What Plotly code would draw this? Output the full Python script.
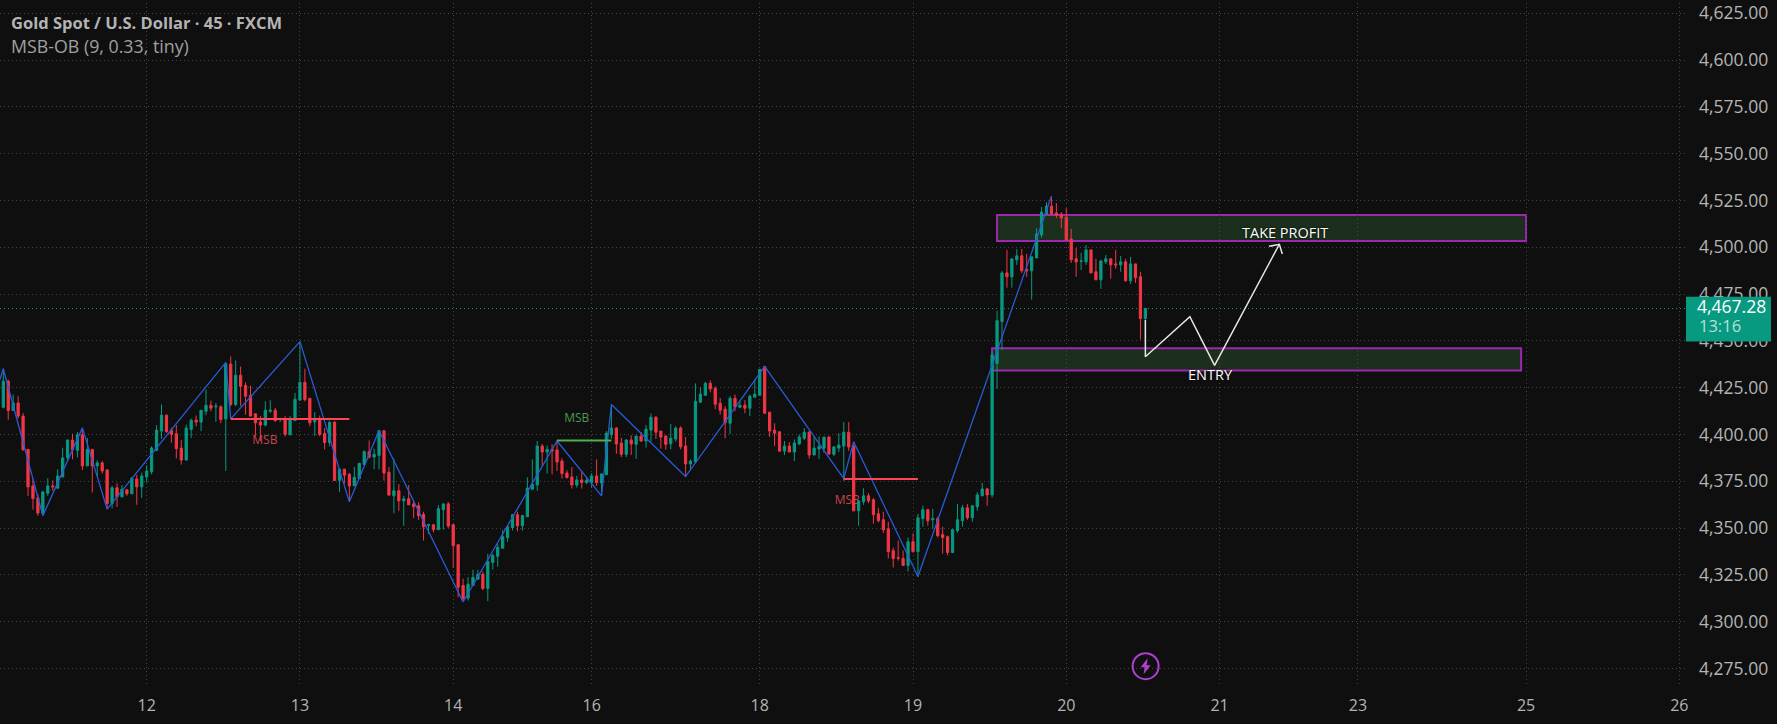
import plotly.graph_objects as go

# 45 minute gold candles
open_ = [
    4414.5, 4428.4, 4412.8, 4416.8, 4409.8, 4392.0, 4372.5, 4366.1, 4357.8, 4368.6,
    4372.5, 4371.3, 4377.3, 4387.6, 4397.0, 4391.5, 4399.8, 4383.2, 4392.0, 4383.2,
    4384.8, 4381.0, 4363.1, 4371.5, 4366.7, 4370.4, 4368.3, 4376.2, 4372.0, 4377.3,
    4380.0, 4391.5, 4401.8, 4410.3, 4402.3, 4400.4, 4392.7, 4386.3, 4402.7, 4407.6,
    4406.6, 4412.4, 4415.6, 4414.7, 4414.7, 4408.3, 4437.6, 4416.0, 4431.6, 4426.2,
    4420.9, 4411.0, 4406.7, 4405.0, 4412.4, 4412.9, 4408.0, 4408.5, 4399.8, 4407.4,
    4418.4, 4427.8, 4419.3, 4406.7, 4407.8, 4400.5, 4395.7, 4406.6, 4375.5, 4381.4,
    4378.7, 4372.5, 4376.4, 4384.0, 4390.8, 4387.9, 4388.8, 4402.0, 4379.8, 4367.2,
    4369.9, 4364.5, 4365.6, 4362.8, 4361.9, 4357.3, 4351.4, 4351.8, 4349.1, 4359.8,
    4362.9, 4351.8, 4341.1, 4319.3, 4312.6, 4319.3, 4322.7, 4325.2, 4317.7, 4331.6,
    4334.9, 4339.2, 4344.9, 4350.2, 4357.1, 4351.2, 4356.0, 4370.7, 4373.0, 4393.8,
    4390.6, 4392.0, 4391.7, 4385.8, 4379.4, 4377.3, 4373.0, 4375.7, 4374.3, 4374.3,
    4377.8, 4374.1, 4378.5, 4400.0, 4403.4, 4395.4, 4389.4, 4397.0, 4394.7, 4399.1,
    4396.5, 4402.3, 4409.2, 4401.8, 4399.1, 4395.0, 4397.5, 4403.4, 4393.8, 4384.2,
    4385.3, 4417.2, 4420.9, 4427.3, 4424.6, 4416.7, 4413.5, 4406.0, 4419.3, 4414.5,
    4415.6, 4414.0, 4419.9, 4420.9, 4436.3, 4411.9, 4402.3, 4401.4, 4391.1, 4393.8,
    4390.6, 4394.9, 4398.0, 4401.2, 4389.0, 4392.2, 4392.7, 4398.6, 4389.4, 4392.7,
    4393.8, 4401.2, 4393.8, 4359.2, 4364.0, 4367.2, 4365.1, 4357.6, 4354.4, 4349.6,
    4337.9, 4334.2, 4333.7, 4330.0, 4342.7, 4337.4, 4355.0, 4359.8, 4354.4, 4355.0,
    4346.5, 4345.4, 4336.9, 4348.6, 4353.9, 4360.8, 4355.5, 4361.3, 4367.2, 4370.9,
    4367.7, 4437.9, 4460.3, 4486.3, 4484.2, 4493.3, 4495.4, 4488.1, 4487.4, 4494.3,
    4506.6, 4517.7, 4522.0, 4518.3, 4517.7, 4516.1, 4504.4, 4493.8, 4492.4, 4492.2,
    4498.6, 4486.9, 4482.6, 4492.2, 4493.8, 4491.1, 4490.6, 4492.2, 4482.1, 4491.1,
    4484.2, 4461.9,
]
high = [
    4435.1, 4429.3, 4421.3, 4420.4, 4411.5, 4392.0, 4376.1, 4368.1, 4369.9, 4376.6,
    4375.5, 4381.4, 4392.9, 4397.3, 4400.4, 4401.4, 4403.5, 4398.2, 4392.0, 4386.2,
    4385.8, 4381.4, 4372.5, 4373.9, 4373.0, 4370.7, 4377.3, 4378.4, 4379.6, 4383.5,
    4393.8, 4405.0, 4416.0, 4410.6, 4403.5, 4405.0, 4397.0, 4405.3, 4408.5, 4410.1,
    4412.9, 4423.9, 4418.1, 4416.8, 4415.6, 4438.5, 4441.7, 4439.5, 4436.3, 4427.8,
    4426.1, 4411.3, 4409.8, 4417.7, 4418.3, 4414.2, 4408.9, 4409.8, 4409.8, 4422.2,
    4449.6, 4435.1, 4419.3, 4411.9, 4410.1, 4403.4, 4407.4, 4406.9, 4381.7, 4381.7,
    4379.4, 4382.6, 4384.8, 4391.5, 4396.8, 4392.4, 4402.1, 4402.1, 4382.6, 4387.2,
    4373.4, 4367.2, 4373.0, 4364.5, 4363.7, 4358.7, 4352.1, 4351.8, 4362.2, 4363.1,
    4364.0, 4351.8, 4341.1, 4322.9, 4323.8, 4327.7, 4327.7, 4326.8, 4336.2, 4336.2,
    4341.5, 4349.1, 4351.2, 4357.1, 4358.7, 4357.1, 4377.0, 4386.7, 4396.5, 4394.9,
    4394.1, 4394.7, 4396.5, 4387.2, 4380.9, 4382.6, 4377.8, 4380.5, 4377.0, 4379.3,
    4386.7, 4379.1, 4401.8, 4416.0, 4403.9, 4398.2, 4397.5, 4399.6, 4399.5, 4401.2,
    4405.0, 4411.2, 4409.8, 4401.8, 4399.6, 4405.5, 4404.4, 4404.4, 4398.6, 4386.7,
    4427.3, 4425.2, 4428.0, 4428.9, 4425.7, 4419.5, 4415.1, 4420.4, 4421.3, 4417.7,
    4418.3, 4421.3, 4429.3, 4434.8, 4436.3, 4411.9, 4406.0, 4401.8, 4396.5, 4395.9,
    4397.3, 4400.0, 4403.4, 4401.8, 4398.6, 4398.9, 4398.6, 4399.1, 4393.8, 4400.7,
    4406.6, 4406.6, 4394.7, 4364.5, 4371.3, 4368.6, 4366.0, 4360.8, 4358.7, 4353.4,
    4339.5, 4343.3, 4337.9, 4344.9, 4347.2, 4357.6, 4361.9, 4360.3, 4360.3, 4356.0,
    4350.7, 4345.9, 4349.1, 4362.9, 4362.4, 4362.9, 4361.9, 4369.3, 4374.1, 4371.5,
    4444.0, 4466.1, 4487.4, 4498.6, 4493.8, 4499.1, 4499.1, 4496.5, 4494.9, 4510.3,
    4521.5, 4524.1, 4527.3, 4523.6, 4518.8, 4520.9, 4509.8, 4499.6, 4497.0, 4501.2,
    4498.6, 4493.8, 4493.3, 4495.9, 4493.8, 4498.6, 4495.4, 4493.8, 4494.9, 4491.1,
    4486.9, 4467.6,
]
low = [
    4414.0, 4407.8, 4412.8, 4408.5, 4391.1, 4367.2, 4359.8, 4356.6, 4356.6, 4367.2,
    4369.9, 4371.1, 4377.3, 4385.8, 4386.7, 4387.6, 4381.0, 4383.2, 4369.0, 4377.8,
    4379.1, 4360.1, 4360.5, 4361.3, 4366.3, 4367.2, 4368.1, 4362.4, 4366.1, 4374.3,
    4378.7, 4391.1, 4397.7, 4400.9, 4395.6, 4387.2, 4383.9, 4386.2, 4398.2, 4404.4,
    4401.8, 4410.3, 4412.4, 4406.7, 4406.0, 4380.5, 4415.1, 4415.1, 4415.1, 4410.6,
    4409.8, 4399.1, 4396.5, 4404.4, 4411.5, 4406.7, 4406.6, 4398.8, 4399.6, 4407.4,
    4417.9, 4417.7, 4404.4, 4399.1, 4399.1, 4392.0, 4393.6, 4375.2, 4369.3, 4373.8,
    4364.0, 4372.5, 4376.4, 4383.5, 4387.1, 4381.4, 4381.4, 4375.4, 4367.2, 4357.8,
    4359.2, 4351.2, 4362.4, 4355.3, 4354.4, 4343.3, 4346.8, 4347.7, 4348.9, 4349.1,
    4350.0, 4328.7, 4313.1, 4311.3, 4311.3, 4319.3, 4322.3, 4316.7, 4311.0, 4327.8,
    4329.4, 4339.2, 4342.7, 4348.6, 4348.2, 4348.6, 4356.0, 4370.7, 4369.9, 4383.2,
    4379.1, 4378.7, 4380.5, 4376.4, 4376.4, 4371.1, 4371.6, 4371.1, 4373.4, 4371.6,
    4372.5, 4367.2, 4378.5, 4397.7, 4389.7, 4387.9, 4387.9, 4389.0, 4386.9, 4396.1,
    4392.9, 4396.1, 4397.7, 4392.4, 4391.8, 4392.0, 4396.1, 4392.0, 4377.5, 4381.4,
    4385.1, 4417.2, 4420.9, 4422.5, 4413.5, 4410.6, 4398.0, 4400.2, 4412.4, 4414.2,
    4411.3, 4409.8, 4419.9, 4420.9, 4411.3, 4398.6, 4393.8, 4390.6, 4389.0, 4390.6,
    4385.8, 4394.3, 4397.0, 4387.1, 4389.0, 4386.9, 4390.1, 4389.4, 4388.5, 4390.6,
    4375.2, 4391.1, 4358.9, 4351.2, 4362.4, 4363.3, 4352.3, 4353.0, 4347.3, 4333.7,
    4328.9, 4332.6, 4329.8, 4326.8, 4336.9, 4323.8, 4350.7, 4351.2, 4349.6, 4344.9,
    4336.3, 4335.3, 4336.9, 4347.5, 4350.7, 4354.4, 4353.4, 4359.2, 4367.2, 4361.9,
    4366.3, 4424.3, 4445.2, 4478.4, 4478.4, 4490.6, 4486.3, 4484.2, 4472.0, 4494.3,
    4505.0, 4517.7, 4517.7, 4515.6, 4510.3, 4503.4, 4491.7, 4484.2, 4487.9, 4490.6,
    4486.3, 4482.6, 4477.8, 4491.1, 4483.2, 4488.5, 4486.9, 4481.6, 4480.5, 4481.0,
    4450.7, 4451.4,
]
close = [
    4428.4, 4412.8, 4416.8, 4409.8, 4392.0, 4372.0, 4365.8, 4358.0, 4369.3, 4372.5,
    4372.0, 4377.8, 4387.4, 4397.0, 4391.7, 4399.8, 4383.2, 4392.0, 4383.2, 4384.8,
    4380.5, 4363.1, 4371.5, 4366.7, 4370.7, 4368.3, 4376.6, 4372.0, 4377.8, 4380.5,
    4392.7, 4402.3, 4410.3, 4401.4, 4400.0, 4392.4, 4386.3, 4403.4, 4407.6, 4406.6,
    4412.9, 4415.6, 4414.0, 4415.1, 4408.0, 4437.6, 4416.0, 4431.6, 4425.7, 4420.4,
    4409.8, 4406.2, 4405.0, 4412.9, 4412.9, 4407.4, 4408.5, 4400.0, 4408.3, 4418.8,
    4427.8, 4418.6, 4406.2, 4407.4, 4400.0, 4395.7, 4406.4, 4375.4, 4381.4, 4378.2,
    4372.5, 4377.1, 4384.6, 4390.8, 4387.9, 4389.4, 4402.0, 4379.4, 4367.6, 4369.9,
    4364.5, 4365.6, 4362.4, 4361.3, 4356.6, 4350.7, 4351.8, 4349.1, 4360.3, 4362.9,
    4351.1, 4340.6, 4318.4, 4312.2, 4319.9, 4323.6, 4325.2, 4317.7, 4332.1, 4335.3,
    4339.7, 4345.4, 4350.7, 4357.1, 4351.2, 4356.6, 4371.3, 4373.4, 4393.8, 4390.6,
    4392.0, 4391.1, 4385.3, 4379.1, 4377.0, 4373.0, 4375.7, 4374.3, 4375.5, 4377.8,
    4374.3, 4378.9, 4400.7, 4403.4, 4394.9, 4389.4, 4397.0, 4394.9, 4399.1, 4396.5,
    4402.8, 4409.2, 4401.2, 4398.6, 4394.7, 4398.0, 4403.4, 4393.4, 4384.2, 4385.8,
    4417.7, 4421.5, 4427.3, 4424.3, 4416.1, 4412.9, 4406.2, 4419.3, 4414.7, 4415.6,
    4414.0, 4420.4, 4421.5, 4434.8, 4411.3, 4401.8, 4400.7, 4391.1, 4393.8, 4390.6,
    4395.4, 4398.6, 4401.2, 4389.0, 4392.7, 4393.6, 4398.6, 4389.5, 4393.3, 4394.3,
    4401.2, 4393.3, 4359.2, 4364.5, 4367.2, 4364.5, 4357.1, 4353.9, 4349.1, 4337.4,
    4333.7, 4333.9, 4330.0, 4342.7, 4337.4, 4355.5, 4359.8, 4353.9, 4355.0, 4345.9,
    4344.9, 4336.9, 4349.1, 4354.4, 4360.8, 4355.5, 4361.9, 4367.7, 4370.9, 4367.7,
    4442.5, 4460.8, 4486.3, 4484.2, 4493.8, 4495.4, 4487.4, 4487.4, 4494.9, 4507.1,
    4518.8, 4522.0, 4517.7, 4517.2, 4515.6, 4503.9, 4493.3, 4492.2, 4492.7, 4498.6,
    4486.3, 4482.6, 4492.7, 4493.8, 4490.6, 4490.6, 4492.2, 4482.1, 4491.1, 4483.7,
    4461.9, 4467.28,
]
bars = list(range(len(close)))

# x axis ticks sit on the first bar of each session
day_bars = [29, 60, 91, 119, 153, 184, 215, 246, 274, 308, 339]
day_labels = ["12", "13", "14", "16", "18", "19", "20", "21", "23", "25", "26"]
price_ticks = [4275, 4300, 4325, 4350, 4375, 4400, 4425, 4450, 4475, 4500, 4525, 4550, 4575, 4600, 4625]

# MSB-OB indicator
zigzag_bars = [-4, 0, 8, 16, 21, 45, 46, 60, 70, 76, 93, 112, 121, 123, 138, 154, 170, 172, 185, 212]
zigzag_price = [4402.0, 4435.1, 4356.6, 4403.5, 4360.1, 4438.5, 4408.3, 4449.6, 4364.0, 4402.1,
                4310.5, 4396.5, 4367.2, 4416.0, 4377.5, 4436.3, 4376.4, 4396.1, 4324.1, 4527.3]
msb_red_1_bars, msb_red_1_price = [46, 70], [4408.3, 4408.3]
msb_green_bars, msb_green_price = [112, 123], [4396.8, 4396.8]
msb_red_2_bars, msb_red_2_price = [170, 185], [4376.2, 4376.2]
msb_label_bars = [52.9, 116, 170.7]
msb_label_price = [4396.3, 4408.0, 4364.4]
msb_label_colors = ["#c9434e", "#4a9a4e", "#c9434e"]

# hand drawn trade idea
plan_bars = [231, 231, 240, 245, 258.1]
plan_price = [4461.2, 4441.5, 4462.9, 4436.9, 4501.6]
arrow_bars = [256.0, 258.1, 258.7]
arrow_price = [4500.5, 4501.6, 4496.4]
tp_zone = [201, 308, 4503.4, 4517.2]
entry_zone = [200, 307, 4434.2, 4446.1]

BG = "#0f0f0f"
UP = "#089981"
DOWN = "#f23645"
GRID = "#454545"
AXIS_TXT = "#b4b4b4"

fig = go.Figure()

fig.add_trace(go.Scatter(
    x=msb_label_bars, y=msb_label_price, mode="text", text=["MSB", "MSB", "MSB"],
    textfont=dict(family="Open Sans", size=12, color=msb_label_colors),
    hoverinfo="skip", zorder=-1,
))

fig.add_trace(go.Candlestick(
    x=bars, open=open_, high=high, low=low, close=close,
    increasing=dict(line=dict(color=UP, width=1), fillcolor=UP),
    decreasing=dict(line=dict(color=DOWN, width=1), fillcolor=DOWN),
    whiskerwidth=0, zorder=0,
))

for xs, ys, col, w in [
    (zigzag_bars, zigzag_price, "#2a5bd7", 1.3),
    (msb_red_1_bars, msb_red_1_price, "#ff4455", 2),
    (msb_green_bars, msb_green_price, "#4caf50", 2),
    (msb_red_2_bars, msb_red_2_price, "#ff4455", 2),
    (plan_bars, plan_price, "#e6e6e6", 1.5),
    (arrow_bars, arrow_price, "#e6e6e6", 1.5),
]:
    fig.add_trace(go.Scatter(x=xs, y=ys, mode="lines", line=dict(color=col, width=w),
                             hoverinfo="skip", zorder=1))

# zones and last price line
for z in (tp_zone, entry_zone):
    fig.add_shape(type="rect", x0=z[0], x1=z[1], y0=z[2], y1=z[3], layer="below",
                  line=dict(color="#9c27b0", width=2), fillcolor="rgba(76,175,80,0.2)")
fig.add_shape(type="line", xref="paper", x0=0, x1=1, y0=close[-1], y1=close[-1], layer="below",
              line=dict(color=UP, width=1, dash="1px,3px"))

# price tag on the scale
fig.add_shape(type="rect", xref="paper", yref="paper", x0=1.0, x1=1.0504, y0=0.5044, y1=0.5700,
              layer="above", line=dict(width=0), fillcolor="#089981")

# lightning badge
fig.add_shape(type="circle", xref="paper", yref="paper", xsizemode="pixel", ysizemode="pixel",
              xanchor=0.6795, yanchor=0.029, x0=-13, x1=13, y0=-13, y1=13,
              line=dict(color="#b13fd4", width=2))
fig.add_shape(type="path", xref="paper", yref="paper", xsizemode="pixel", ysizemode="pixel",
              xanchor=0.6795, yanchor=0.029, path="M 2,8 L -5,-1 L -1,-1 L -2,-8 L 5,1 L 1,1 Z",
              line=dict(width=0), fillcolor="#b13fd4")

W = 1686.0
H = 686.0
notes = [
    ("<b>Gold Spot / U.S. Dollar · 45 · FXCM</b>", 9, 20, "left", 16.5, AXIS_TXT),
    ("MSB-OB (9, 0.33, tiny)", 9, 43, "left", 17.8, "#a0a0a0"),
    ("4,467.28", 1768, 304, "right", 17.5, "#ffffff"),
    ("13:16", 1697, 324, "left", 16.5, "#b8e0d8"),
]
for txt, px, py, anchor, size, col in notes:
    fig.add_annotation(xref="paper", yref="paper", x=px / W, y=1 - py / H, text=txt, showarrow=False,
                       xanchor=anchor, yanchor="middle", font=dict(family="Open Sans", size=size, color=col))

fig.add_annotation(x=259.3, y=4507.9, text="TAKE PROFIT", showarrow=False,
                   font=dict(family="Open Sans", size=14.5, weight=500, color="#ffffff", shadow="0 0 2px #000"))
fig.add_annotation(x=244.1, y=4432.2, text="ENTRY", showarrow=False,
                   font=dict(family="Open Sans", size=14.5, weight=500, color="#ffffff", shadow="0 0 2px #000"))

fig.update_layout(
    width=1777, height=724,
    margin=dict(l=0, r=91, t=0, b=38),
    paper_bgcolor=BG, plot_bgcolor=BG,
    showlegend=False, boxgap=0.35, hovermode=False,
    font=dict(family="Open Sans", color=AXIS_TXT, size=15),
)
fig.update_xaxes(
    range=[-0.667, 340.35], tickmode="array", tickvals=day_bars, ticktext=day_labels,
    rangeslider_visible=False, showgrid=True, gridcolor=GRID, griddash="1px,3px",
    zeroline=False, showline=False, ticks="", ticklabelstandoff=8, ticklabeloverflow="allow",
    tickfont=dict(size=16, color=AXIS_TXT),
)
fig.update_yaxes(
    side="right", range=[4265.6, 4630.5], tickmode="array", tickvals=price_ticks, tickformat=",.2f",
    showgrid=True, gridcolor=GRID, griddash="1px,3px", zeroline=False, showline=False, ticks="",
    ticklabelstandoff=12, ticklabeloverflow="allow", tickfont=dict(size=17.5, color=AXIS_TXT),
)

fig.write_html("out.html", config={"displayModeBar": False}, post_script="document.body.style.margin='0';")
